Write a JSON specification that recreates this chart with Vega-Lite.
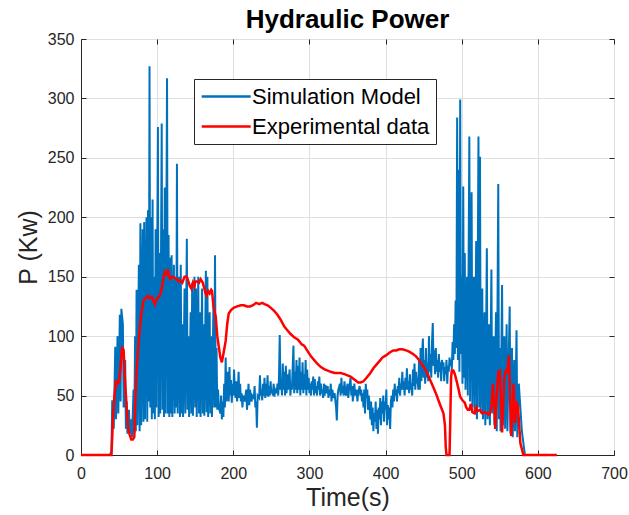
{
  "$schema": "https://vega.github.io/schema/vega-lite/v6.json",
  "width": 533,
  "height": 416,
  "autosize": {"type": "none"},
  "padding": {"left": 81, "top": 39, "right": 15, "bottom": 60},
  "background": "white",
  "title": {"text": "Hydraulic Power", "fontSize": 26, "font": "Liberation Sans", "fontWeight": "bold", "color": "#000000", "offset": -2, "anchor": "middle"},
  "config": {
    "view": {"stroke": "#262626", "strokeWidth": 1},
    "axis": {"labelFont": "Liberation Sans", "labelFontSize": 16, "labelColor": "#262626", "titleFont": "Liberation Sans", "titleFontSize": 25, "titleColor": "#262626", "titleFontWeight": "normal", "domainColor": "#262626", "tickColor": "#262626", "tickSize": -5, "gridColor": "#dfdfdf", "gridOpacity": 1, "labelFlush": false, "labelOverlap": false}
  },
  "datasets": {
    "sim": [
      {"t":0,"v":0},{"t":38,"v":0},{"t":40,"v":3},{"t":41,"v":46},{"t":43,"v":22},{"t":45,"v":91},{"t":46,"v":30},{"t":48,"v":100},{"t":49,"v":35},{"t":51,"v":118},{"t":52,"v":45},{"t":53,"v":123},{"t":55,"v":110},{"t":56,"v":40},{"t":58,"v":80},{"t":59,"v":22},{"t":60,"v":45},{"t":61,"v":18},{"t":63,"v":38},{"t":64,"v":18},{"t":66,"v":30},{"t":67,"v":15},{"t":69,"v":55},{"t":70,"v":18},{"t":71,"v":100},{"t":72,"v":20},{"t":73,"v":139},{"t":74,"v":25},{"t":76,"v":160},{"t":77,"v":20},{"t":78,"v":195},{"t":79,"v":25},{"t":81,"v":190},{"t":82,"v":28},{"t":83,"v":196},{"t":84,"v":30},{"t":86,"v":200},{"t":87,"v":28},{"t":88,"v":206},{"t":89,"v":45},{"t":90,"v":327},{"t":91,"v":40},{"t":92,"v":200},{"t":93,"v":30},{"t":94,"v":215},{"t":95,"v":35},{"t":96,"v":150},{"t":97,"v":30},{"t":98,"v":190},{"t":99,"v":40},{"t":101,"v":276},{"t":102,"v":32},{"t":103,"v":170},{"t":104,"v":35},{"t":106,"v":279},{"t":107,"v":38},{"t":108,"v":190},{"t":109,"v":32},{"t":110,"v":225},{"t":111,"v":35},{"t":113,"v":317},{"t":114,"v":35},{"t":115,"v":185},{"t":116,"v":32},{"t":117,"v":166},{"t":118,"v":35},{"t":119,"v":168},{"t":120,"v":32},{"t":122,"v":160},{"t":123,"v":35},{"t":124,"v":150},{"t":125,"v":40},{"t":126,"v":245},{"t":127,"v":35},{"t":129,"v":150},{"t":130,"v":32},{"t":131,"v":160},{"t":132,"v":35},{"t":133,"v":110},{"t":134,"v":32},{"t":136,"v":140},{"t":137,"v":35},{"t":139,"v":182},{"t":140,"v":38},{"t":141,"v":100},{"t":142,"v":32},{"t":144,"v":120},{"t":145,"v":35},{"t":146,"v":145},{"t":147,"v":33},{"t":149,"v":150},{"t":150,"v":40},{"t":151,"v":140},{"t":152,"v":32},{"t":154,"v":150},{"t":155,"v":35},{"t":156,"v":120},{"t":157,"v":32},{"t":159,"v":140},{"t":160,"v":35},{"t":161,"v":110},{"t":162,"v":33},{"t":164,"v":155},{"t":165,"v":36},{"t":166,"v":150},{"t":167,"v":32},{"t":169,"v":120},{"t":170,"v":35},{"t":171,"v":100},{"t":172,"v":32},{"t":174,"v":130},{"t":175,"v":40},{"t":176,"v":168},{"t":177,"v":40},{"t":178,"v":90},{"t":179,"v":38},{"t":180,"v":55},{"t":181,"v":40},{"t":183,"v":35},{"t":184,"v":50},{"t":185,"v":30},{"t":186,"v":45},{"t":187,"v":32},{"t":188,"v":60},{"t":189,"v":40},{"t":190,"v":82},{"t":191,"v":45},{"t":192,"v":55},{"t":193,"v":70},{"t":194,"v":45},{"t":195,"v":74},{"t":196,"v":50},{"t":197,"v":63},{"t":198,"v":44},{"t":199,"v":60},{"t":200,"v":50},{"t":201,"v":72},{"t":202,"v":55},{"t":203,"v":48},{"t":204,"v":62},{"t":205,"v":45},{"t":206,"v":55},{"t":207,"v":70},{"t":208,"v":48},{"t":209,"v":60},{"t":210,"v":45},{"t":211,"v":52},{"t":212,"v":40},{"t":213,"v":50},{"t":215,"v":45},{"t":217,"v":55},{"t":218,"v":38},{"t":219,"v":48},{"t":220,"v":60},{"t":221,"v":42},{"t":222,"v":55},{"t":224,"v":45},{"t":225,"v":50},{"t":227,"v":48},{"t":228,"v":58},{"t":229,"v":40},{"t":230,"v":45},{"t":231,"v":23},{"t":232,"v":50},{"t":234,"v":48},{"t":235,"v":67},{"t":236,"v":50},{"t":237,"v":55},{"t":238,"v":46},{"t":239,"v":60},{"t":240,"v":50},{"t":241,"v":65},{"t":242,"v":48},{"t":243,"v":60},{"t":244,"v":50},{"t":245,"v":67},{"t":246,"v":49},{"t":247,"v":58},{"t":248,"v":50},{"t":249,"v":62},{"t":250,"v":52},{"t":251,"v":55},{"t":252,"v":50},{"t":253,"v":60},{"t":254,"v":49},{"t":255,"v":55},{"t":257,"v":52},{"t":258,"v":60},{"t":259,"v":50},{"t":260,"v":65},{"t":261,"v":101},{"t":262,"v":55},{"t":263,"v":62},{"t":264,"v":50},{"t":265,"v":77},{"t":266,"v":55},{"t":267,"v":70},{"t":268,"v":50},{"t":269,"v":75},{"t":270,"v":52},{"t":271,"v":68},{"t":272,"v":55},{"t":274,"v":72},{"t":275,"v":50},{"t":276,"v":60},{"t":277,"v":55},{"t":279,"v":92},{"t":280,"v":52},{"t":281,"v":70},{"t":282,"v":55},{"t":283,"v":80},{"t":284,"v":52},{"t":285,"v":75},{"t":286,"v":55},{"t":287,"v":82},{"t":288,"v":50},{"t":289,"v":70},{"t":290,"v":55},{"t":291,"v":78},{"t":292,"v":52},{"t":293,"v":68},{"t":294,"v":55},{"t":295,"v":80},{"t":296,"v":50},{"t":297,"v":72},{"t":298,"v":55},{"t":299,"v":65},{"t":300,"v":52},{"t":301,"v":60},{"t":302,"v":50},{"t":303,"v":62},{"t":304,"v":55},{"t":305,"v":66},{"t":306,"v":50},{"t":307,"v":64},{"t":308,"v":52},{"t":309,"v":58},{"t":310,"v":50},{"t":311,"v":62},{"t":312,"v":55},{"t":313,"v":66},{"t":314,"v":50},{"t":315,"v":60},{"t":316,"v":52},{"t":317,"v":55},{"t":318,"v":48},{"t":319,"v":60},{"t":320,"v":50},{"t":321,"v":59},{"t":322,"v":52},{"t":324,"v":58},{"t":325,"v":48},{"t":326,"v":55},{"t":327,"v":50},{"t":328,"v":60},{"t":329,"v":45},{"t":330,"v":55},{"t":332,"v":48},{"t":333,"v":52},{"t":335,"v":40},{"t":336,"v":29},{"t":337,"v":50},{"t":338,"v":55},{"t":340,"v":60},{"t":341,"v":50},{"t":342,"v":65},{"t":343,"v":52},{"t":344,"v":58},{"t":345,"v":50},{"t":346,"v":62},{"t":347,"v":55},{"t":348,"v":50},{"t":350,"v":60},{"t":351,"v":48},{"t":352,"v":55},{"t":354,"v":65},{"t":355,"v":50},{"t":356,"v":58},{"t":357,"v":45},{"t":358,"v":52},{"t":359,"v":60},{"t":360,"v":50},{"t":362,"v":55},{"t":363,"v":45},{"t":364,"v":52},{"t":366,"v":58},{"t":367,"v":50},{"t":368,"v":55},{"t":369,"v":45},{"t":370,"v":52},{"t":371,"v":40},{"t":372,"v":55},{"t":373,"v":35},{"t":374,"v":60},{"t":375,"v":48},{"t":376,"v":55},{"t":377,"v":38},{"t":378,"v":50},{"t":379,"v":42},{"t":380,"v":30},{"t":381,"v":45},{"t":382,"v":25},{"t":383,"v":40},{"t":384,"v":20},{"t":385,"v":35},{"t":386,"v":28},{"t":387,"v":45},{"t":388,"v":22},{"t":389,"v":38},{"t":390,"v":18},{"t":391,"v":40},{"t":392,"v":30},{"t":393,"v":48},{"t":394,"v":25},{"t":395,"v":45},{"t":396,"v":35},{"t":397,"v":50},{"t":398,"v":28},{"t":399,"v":45},{"t":400,"v":38},{"t":401,"v":55},{"t":402,"v":25},{"t":403,"v":42},{"t":404,"v":30},{"t":405,"v":40},{"t":406,"v":22},{"t":407,"v":45},{"t":408,"v":50},{"t":409,"v":40},{"t":410,"v":55},{"t":411,"v":45},{"t":412,"v":60},{"t":413,"v":50},{"t":414,"v":55},{"t":415,"v":45},{"t":416,"v":58},{"t":417,"v":52},{"t":418,"v":65},{"t":419,"v":50},{"t":420,"v":60},{"t":421,"v":55},{"t":422,"v":70},{"t":423,"v":55},{"t":424,"v":62},{"t":425,"v":50},{"t":426,"v":65},{"t":427,"v":55},{"t":428,"v":73},{"t":429,"v":55},{"t":430,"v":62},{"t":431,"v":52},{"t":432,"v":68},{"t":433,"v":55},{"t":434,"v":60},{"t":435,"v":50},{"t":436,"v":72},{"t":437,"v":58},{"t":438,"v":77},{"t":439,"v":55},{"t":440,"v":70},{"t":441,"v":60},{"t":442,"v":65},{"t":443,"v":55},{"t":444,"v":80},{"t":445,"v":55},{"t":446,"v":90},{"t":447,"v":62},{"t":448,"v":85},{"t":449,"v":98},{"t":450,"v":65},{"t":451,"v":80},{"t":452,"v":60},{"t":453,"v":90},{"t":454,"v":65},{"t":455,"v":78},{"t":456,"v":62},{"t":457,"v":100},{"t":458,"v":70},{"t":459,"v":85},{"t":460,"v":65},{"t":461,"v":95},{"t":462,"v":111},{"t":463,"v":75},{"t":464,"v":88},{"t":465,"v":68},{"t":466,"v":90},{"t":467,"v":70},{"t":468,"v":80},{"t":469,"v":65},{"t":470,"v":85},{"t":471,"v":70},{"t":472,"v":78},{"t":473,"v":62},{"t":474,"v":80},{"t":475,"v":72},{"t":476,"v":78},{"t":477,"v":62},{"t":478,"v":74},{"t":479,"v":68},{"t":480,"v":80},{"t":481,"v":60},{"t":482,"v":75},{"t":483,"v":70},{"t":484,"v":82},{"t":485,"v":75},{"t":486,"v":80},{"t":487,"v":72},{"t":488,"v":95},{"t":489,"v":80},{"t":490,"v":110},{"t":491,"v":85},{"t":492,"v":130},{"t":493,"v":90},{"t":494,"v":284},{"t":495,"v":80},{"t":496,"v":240},{"t":497,"v":70},{"t":498,"v":299},{"t":499,"v":85},{"t":500,"v":150},{"t":501,"v":60},{"t":502,"v":226},{"t":503,"v":65},{"t":504,"v":170},{"t":505,"v":55},{"t":507,"v":150},{"t":508,"v":50},{"t":510,"v":268},{"t":511,"v":45},{"t":513,"v":221},{"t":514,"v":40},{"t":516,"v":150},{"t":517,"v":35},{"t":519,"v":180},{"t":520,"v":30},{"t":522,"v":268},{"t":523,"v":40},{"t":524,"v":251},{"t":525,"v":35},{"t":527,"v":140},{"t":528,"v":30},{"t":530,"v":120},{"t":531,"v":25},{"t":533,"v":174},{"t":534,"v":30},{"t":536,"v":110},{"t":537,"v":25},{"t":539,"v":156},{"t":540,"v":35},{"t":542,"v":100},{"t":543,"v":25},{"t":545,"v":120},{"t":546,"v":20},{"t":548,"v":228},{"t":549,"v":30},{"t":550,"v":90},{"t":551,"v":20},{"t":553,"v":143},{"t":554,"v":25},{"t":556,"v":100},{"t":557,"v":22},{"t":559,"v":110},{"t":560,"v":20},{"t":563,"v":125},{"t":564,"v":18},{"t":566,"v":90},{"t":567,"v":15},{"t":569,"v":80},{"t":570,"v":20},{"t":572,"v":105},{"t":573,"v":15},{"t":575,"v":60},{"t":577,"v":40},{"t":579,"v":20},{"t":581,"v":10},{"t":583,"v":0}
    ],
    "exp": [
      {"t":0,"v":0},{"t":40,"v":0},{"t":41,"v":15},{"t":42,"v":32},{"t":44,"v":50},{"t":46,"v":63},{"t":48,"v":60},{"t":50,"v":62},{"t":52,"v":75},{"t":54,"v":91},{"t":56,"v":88},{"t":58,"v":60},{"t":60,"v":40},{"t":62,"v":22},{"t":64,"v":17},{"t":66,"v":13},{"t":68,"v":13},{"t":70,"v":15},{"t":71,"v":40},{"t":73,"v":71},{"t":75,"v":90},{"t":77,"v":105},{"t":79,"v":118},{"t":82,"v":130},{"t":85,"v":132},{"t":88,"v":134},{"t":90,"v":132},{"t":93,"v":133},{"t":95,"v":130},{"t":97,"v":127},{"t":99,"v":131},{"t":102,"v":133},{"t":104,"v":135},{"t":106,"v":140},{"t":108,"v":148},{"t":110,"v":154},{"t":112,"v":152},{"t":114,"v":155},{"t":116,"v":150},{"t":117,"v":148},{"t":120,"v":150},{"t":123,"v":149},{"t":126,"v":148},{"t":128,"v":146},{"t":130,"v":147},{"t":133,"v":145},{"t":136,"v":150},{"t":139,"v":150},{"t":141,"v":146},{"t":143,"v":142},{"t":145,"v":140},{"t":147,"v":145},{"t":149,"v":142},{"t":150,"v":146},{"t":152,"v":146},{"t":155,"v":145},{"t":157,"v":148},{"t":159,"v":146},{"t":160,"v":145},{"t":162,"v":140},{"t":164,"v":135},{"t":165,"v":134},{"t":167,"v":138},{"t":169,"v":136},{"t":171,"v":139},{"t":172,"v":138},{"t":174,"v":125},{"t":177,"v":116},{"t":179,"v":100},{"t":181,"v":91},{"t":183,"v":82},{"t":185,"v":78},{"t":187,"v":85},{"t":190,"v":96},{"t":192,"v":110},{"t":194,"v":119},{"t":197,"v":122},{"t":201,"v":124},{"t":205,"v":125},{"t":210,"v":126},{"t":214,"v":126},{"t":218,"v":125},{"t":222,"v":125},{"t":226,"v":126},{"t":230,"v":128},{"t":234,"v":127},{"t":238,"v":128},{"t":241,"v":127},{"t":245,"v":126},{"t":249,"v":124},{"t":254,"v":121},{"t":258,"v":118},{"t":262,"v":114},{"t":267,"v":108},{"t":271,"v":105},{"t":275,"v":102},{"t":280,"v":99},{"t":285,"v":97},{"t":290,"v":93},{"t":293,"v":92},{"t":297,"v":88},{"t":302,"v":83},{"t":306,"v":80},{"t":310,"v":77},{"t":315,"v":74},{"t":320,"v":72},{"t":324,"v":71},{"t":328,"v":70},{"t":333,"v":69},{"t":338,"v":69},{"t":341,"v":69},{"t":346,"v":68},{"t":350,"v":67},{"t":354,"v":66},{"t":358,"v":64},{"t":362,"v":62},{"t":364,"v":61},{"t":367,"v":61},{"t":371,"v":62},{"t":375,"v":65},{"t":380,"v":69},{"t":384,"v":73},{"t":388,"v":76},{"t":392,"v":79},{"t":396,"v":82},{"t":401,"v":84},{"t":405,"v":86},{"t":410,"v":88},{"t":414,"v":88},{"t":418,"v":89},{"t":422,"v":89},{"t":427,"v":88},{"t":431,"v":87},{"t":436,"v":85},{"t":440,"v":83},{"t":444,"v":80},{"t":448,"v":76},{"t":453,"v":71},{"t":458,"v":64},{"t":462,"v":58},{"t":466,"v":52},{"t":470,"v":45},{"t":473,"v":40},{"t":476,"v":35},{"t":478,"v":25},{"t":479,"v":7},{"t":480,"v":0},{"t":484,"v":0},{"t":485,"v":30},{"t":486,"v":65},{"t":487,"v":71},{"t":489,"v":71},{"t":491,"v":68},{"t":493,"v":63},{"t":496,"v":55},{"t":498,"v":49},{"t":501,"v":46},{"t":504,"v":44},{"t":506,"v":40},{"t":508,"v":38},{"t":510,"v":38},{"t":512,"v":43},{"t":514,"v":36},{"t":517,"v":35},{"t":519,"v":40},{"t":521,"v":37},{"t":524,"v":38},{"t":527,"v":35},{"t":530,"v":36},{"t":533,"v":35},{"t":536,"v":34},{"t":539,"v":40},{"t":541,"v":60},{"t":543,"v":40},{"t":544,"v":22},{"t":546,"v":50},{"t":548,"v":70},{"t":550,"v":71},{"t":552,"v":40},{"t":553,"v":19},{"t":555,"v":50},{"t":556,"v":65},{"t":558,"v":71},{"t":560,"v":70},{"t":562,"v":84},{"t":563,"v":60},{"t":565,"v":16},{"t":567,"v":40},{"t":568,"v":60},{"t":570,"v":27},{"t":572,"v":45},{"t":574,"v":40},{"t":577,"v":10},{"t":581,"v":0},{"t":625,"v":0}
    ]
  },
  "layer": [
    {
      "data": {"name": "sim"},
      "mark": {"type": "line", "strokeWidth": 2},
      "encoding": {
        "x": {"field": "t", "type": "quantitative", "scale": {"domain": [0, 700], "nice": false}, "axis": {"values": [0,100,200,300,400,500,600,700], "title": "Time(s)", "grid": true, "labelPadding": 15, "titlePadding": 4}},
        "y": {"field": "v", "type": "quantitative", "scale": {"domain": [0, 350], "nice": false}, "axis": {"values": [0,50,100,150,200,250,300,350], "title": "P (Kw)", "grid": true, "labelPadding": 12, "titlePadding": 6}},
        "color": {"datum": "Simulation Model", "type": "nominal", "scale": {"domain": ["Simulation Model", "Experimental data"], "range": ["#0072BD", "#FF0000"]},
          "legend": {"title": null, "orient": "none", "legendX": 113, "legendY": 40, "symbolType": "M-1,0H4", "symbolSize": 384, "symbolStrokeWidth": 2.5, "labelFontSize": 22, "labelFont": "Liberation Sans", "labelColor": "#000000", "labelLimit": 400, "strokeColor": "#262626", "fillColor": "white", "padding": 6, "rowPadding": 7, "labelOffset": 29}}
      }
    },
    {
      "data": {"name": "exp"},
      "mark": {"type": "line", "strokeWidth": 2.5},
      "encoding": {
        "x": {"field": "t", "type": "quantitative", "axis": null},
        "y": {"field": "v", "type": "quantitative", "axis": null},
        "color": {"datum": "Experimental data", "type": "nominal"}
      }
    },
    {
      "data": {"name": "exp"},
      "mark": {"type": "line", "opacity": 0},
      "encoding": {
        "x": {"field": "t", "type": "quantitative", "axis": {"orient": "top", "values": [0,100,200,300,400,500,600,700], "labels": false, "title": null, "grid": false, "domain": false}},
        "y": {"field": "v", "type": "quantitative", "axis": {"orient": "right", "values": [0,50,100,150,200,250,300,350], "labels": false, "title": null, "grid": false, "domain": false}}
      }
    }
  ],
  "resolve": {"axis": {"x": "independent", "y": "independent"}}
}
